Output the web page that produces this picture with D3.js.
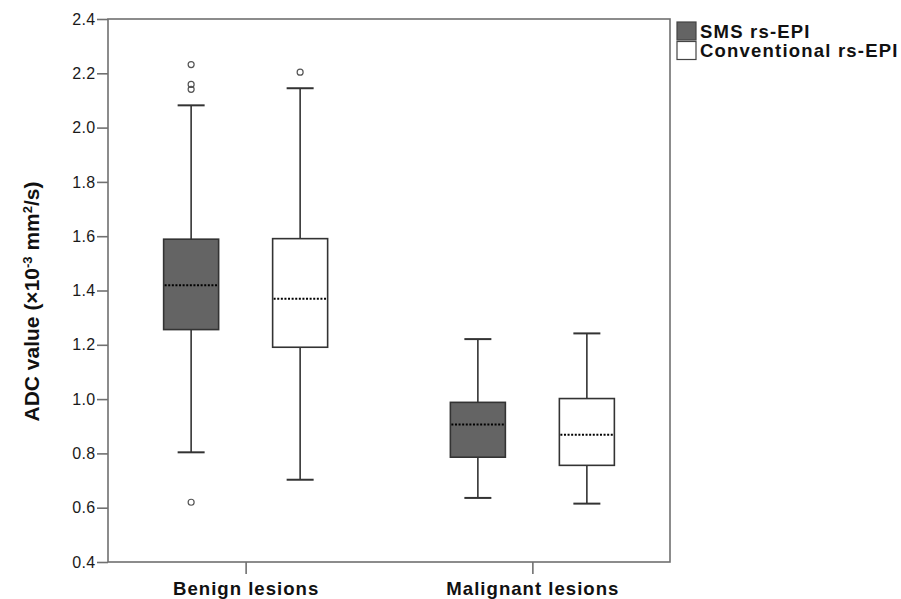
<!DOCTYPE html>
<html>
<head>
<meta charset="utf-8">
<script src="https://cdn.jsdelivr.net/npm/d3@7"></script>
<style>
  body { margin: 0; background: #fff; }
  svg { font-family: "Liberation Sans", Arial, sans-serif; }
</style>
</head>
<body>
<svg width="901" height="599"></svg>
<script>
// categories and series
let groups = ["Benign lesions", "Malignant lesions"];
let series = ["SMS rs-EPI", "Conventional rs-EPI"];
let fills = ["#646464", "#ffffff"];

// box stats per series, same order as groups: [lowWhisker, q1, median, q3, highWhisker]
let smsStats = [[0.804, 1.256, 1.419, 1.589, 2.082], [0.636, 0.786, 0.906, 0.988, 1.221]];
let convStats = [[0.703, 1.191, 1.370, 1.591, 2.145], [0.615, 0.756, 0.869, 1.002, 1.242]];
let smsOutliers = [[2.232, 2.159, 2.141, 0.620], []];
let convOutliers = [[2.204], []];

let yTicks = [0.4, 0.6, 0.8, 1.0, 1.2, 1.4, 1.6, 1.8, 2.0, 2.2, 2.4];

let svg = d3.select("svg");
let plotLeft = 108, plotRight = 670, plotTop = 19, plotBottom = 562;

let x = d3.scalePoint().domain(groups).range([plotLeft, plotRight]).padding(0.48);
let xs = d3.scalePoint().domain(series).range([-54.5, 54.5]);
let y = d3.scaleLinear().domain([0.4, 2.4]).range([plotBottom, plotTop]);

let boxW = 55, capW = 27;

// frame
svg.append("rect")
    .attr("x", plotLeft).attr("y", plotTop)
    .attr("width", plotRight - plotLeft).attr("height", plotBottom - plotTop)
    .attr("fill", "none").attr("stroke", "#707070").attr("stroke-width", 1.6);

// y axis
let yAxis = svg.append("g")
    .attr("transform", "translate(" + plotLeft + ",0)")
    .call(d3.axisLeft(y).tickValues(yTicks).tickFormat(d3.format(".1f")).tickSize(11).tickPadding(1.5));
yAxis.select(".domain").remove();
yAxis.selectAll("line").attr("stroke", "#707070").attr("stroke-width", 1.6);
yAxis.selectAll("text").attr("font-size", 16).attr("letter-spacing", 0.3).attr("fill", "#1a1a1a")
    .attr("font-family", "Liberation Sans, Arial, sans-serif");

// x axis
let xAxis = svg.append("g")
    .attr("transform", "translate(0," + plotBottom + ")")
    .call(d3.axisBottom(x).tickSize(12).tickPadding(8));
xAxis.select(".domain").remove();
xAxis.selectAll("line").attr("stroke", "#707070").attr("stroke-width", 1.6);
xAxis.selectAll("text").attr("font-size", 18.6).attr("letter-spacing", 1).attr("font-weight", "bold")
    .attr("fill", "#111").attr("font-family", "Liberation Sans, Arial, sans-serif");

// y label
svg.append("text")
    .attr("transform", "translate(38.5,301.5) rotate(-90)")
    .attr("text-anchor", "middle")
    .attr("font-size", 21).attr("font-weight", "bold").attr("fill", "#111")
    .html('ADC value (\u00d710<tspan baseline-shift="super" font-size="13">-3</tspan> mm<tspan baseline-shift="super" font-size="13">2</tspan>/s)');

function drawBox(stats, outliers, si) {
  groups.forEach(function(g, gi) {
    let s = stats[gi];
    let cx = x(g) + xs(series[si]);
    let gr = svg.append("g");
    let stroke = "#333";
    // whiskers
    gr.append("line").attr("x1", cx).attr("x2", cx).attr("y1", y(s[0])).attr("y2", y(s[1]))
      .attr("stroke", stroke).attr("stroke-width", 1.6);
    gr.append("line").attr("x1", cx).attr("x2", cx).attr("y1", y(s[3])).attr("y2", y(s[4]))
      .attr("stroke", stroke).attr("stroke-width", 1.6);
    [s[0], s[4]].forEach(function(v) {
      gr.append("line").attr("x1", cx - capW / 2).attr("x2", cx + capW / 2)
        .attr("y1", y(v)).attr("y2", y(v)).attr("stroke", stroke).attr("stroke-width", 2);
    });
    gr.append("rect")
      .attr("x", cx - boxW / 2).attr("y", y(s[3]))
      .attr("width", boxW).attr("height", y(s[1]) - y(s[3]))
      .attr("fill", fills[si]).attr("stroke", stroke).attr("stroke-width", 1.6);
    gr.append("line").attr("x1", cx - boxW / 2 + 1).attr("x2", cx + boxW / 2 - 1)
      .attr("y1", y(s[2])).attr("y2", y(s[2]))
      .attr("stroke", "#000").attr("stroke-width", 2).attr("stroke-dasharray", "2,1.6");
    outliers[gi].forEach(function(v) {
      gr.append("circle").attr("cx", cx).attr("cy", y(v)).attr("r", 3)
        .attr("fill", "none").attr("stroke", "#555").attr("stroke-width", 1.2);
    });
  });
}
drawBox(smsStats, smsOutliers, 0);
drawBox(convStats, convOutliers, 1);

// legend
let legend = svg.append("g").attr("transform", "translate(677,22)");
series.forEach(function(name, i) {
  legend.append("rect").attr("x", 0).attr("y", i * 19.5).attr("width", 19).attr("height", 18)
    .attr("fill", fills[i]).attr("stroke", "#444").attr("stroke-width", 1.2);
  legend.append("text").attr("x", 23).attr("y", i * 19.5 + 15.5)
    .attr("font-size", 18.5).attr("letter-spacing", 1.2).attr("font-weight", "bold").attr("fill", "#111")
    .text(name);
});
</script>
</body>
</html>
